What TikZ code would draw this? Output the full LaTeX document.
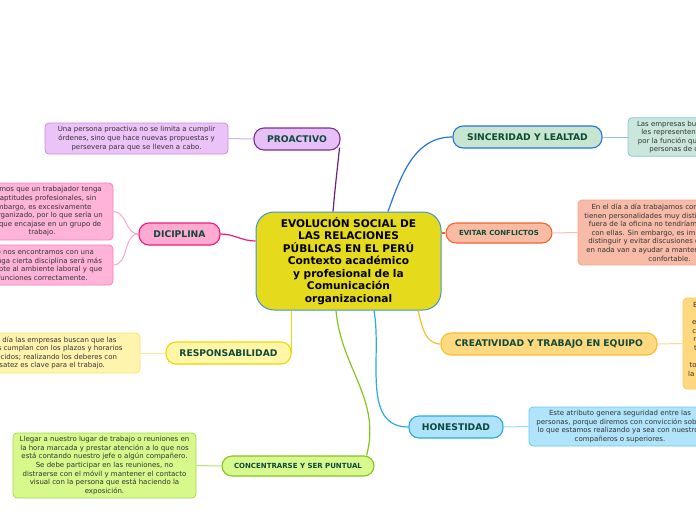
\documentclass[tikz,border=0pt]{standalone}
\usepackage{fontspec}
\setmainfont{DejaVu Sans}
\usepackage{tikz}
\usetikzlibrary{calc}
\definecolor{TitleGreen}{HTML}{0D4A3B}
\definecolor{NoteText}{HTML}{333333}
\definecolor{RootFill}{HTML}{E5DA1C}
\definecolor{RootBorder}{HTML}{3C96D6}
\definecolor{ProFill}{HTML}{E8C0F8}
\definecolor{ProBorder}{HTML}{7E2E91}
\definecolor{ProLine}{HTML}{6B1F7D}
\definecolor{ProNoteFill}{HTML}{ECC3F8}
\definecolor{ProNoteBorder}{HTML}{C88BDB}
\definecolor{SinFill}{HTML}{C7E6CF}
\definecolor{SinBorder}{HTML}{2A73D6}
\definecolor{SinNoteFill}{HTML}{C9E7DA}
\definecolor{SinNoteBorder}{HTML}{8CC2E8}
\definecolor{EviFill}{HTML}{F8BBA3}
\definecolor{EviBorder}{HTML}{F26430}
\definecolor{EviNoteFill}{HTML}{F7BBA7}
\definecolor{EviNoteBorder}{HTML}{F6A58C}
\definecolor{DicFill}{HTML}{FFA9D3}
\definecolor{DicBorder}{HTML}{F2187D}
\definecolor{DicNoteFill}{HTML}{FFB3D9}
\definecolor{DicNoteBorder}{HTML}{F77FBE}
\definecolor{ResFill}{HTML}{FFF6A8}
\definecolor{ResBorder}{HTML}{F2D600}
\definecolor{ResNoteFill}{HTML}{FFF4AE}
\definecolor{ResNoteBorder}{HTML}{F8E46E}
\definecolor{CreFill}{HTML}{FFD87F}
\definecolor{CreBorder}{HTML}{F7BE2C}
\definecolor{CreNoteFill}{HTML}{FFD87F}
\definecolor{CreNoteBorder}{HTML}{F9CB5A}
\definecolor{HonFill}{HTML}{AFE3FA}
\definecolor{HonBorder}{HTML}{2AA9E5}
\definecolor{HonNoteFill}{HTML}{B0E4FA}
\definecolor{HonNoteBorder}{HTML}{6EC6F0}
\definecolor{ConFill}{HTML}{D8F98E}
\definecolor{ConBorder}{HTML}{86C31E}
\definecolor{ConNoteFill}{HTML}{D7F88A}
\definecolor{ConNoteBorder}{HTML}{A6D94A}
\tikzset{
  rootnode/.style={
    draw=RootBorder,fill=RootFill,line width=1pt,rounded corners=18pt,
    minimum width=185pt,minimum height=98pt,text width=172pt,
    font=\fontsize{10.6}{12.5}\selectfont\bfseries,
    align=center,inner sep=2pt
  },
  topicnode/.style 2 args={
    draw=#1,fill=#2,line width=1.1pt,rounded corners=10pt,
    minimum height=22pt,inner sep=2pt,
    font=\fontsize{9.2}{11}\selectfont\bfseries\color{TitleGreen}
  },
  smtopicnode/.style 2 args={
    topicnode={#1}{#2},minimum height=20pt,
    font=\fontsize{7}{9}\selectfont\bfseries\color{TitleGreen}
  },
  notenode/.style 2 args={
    draw=#1,fill=#2,line width=0.8pt,rounded corners=4pt,
    inner xsep=5pt,inner ysep=3pt,align=center,
    font=\fontsize{7}{8.6}\selectfont\color{NoteText}
  },
  branch/.style={line width=1.2pt},
  twig/.style={line width=1pt},
}
\begin{document}
\begin{tikzpicture}[x=1pt,y=1pt]
  \useasboundingbox (0,0) rectangle (696,-520);
  \clip (0,0) rectangle (696,-520);
  % central idea
  \node[rootnode] (root) at (348.5,-261) {EVOLUCIÓN SOCIAL DE\\LAS RELACIONES\\PÚBLICAS EN EL PERÚ\\Contexto académico\\y profesional de la\\Comunicación\\organizacional};
  % main topics
  \node[topicnode={ProBorder}{ProFill}, minimum width=86pt] (pro) at (297,-139) {PROACTIVO};
  \node[topicnode={SinBorder}{SinFill}, minimum width=149pt] (sin) at (527.5,-137) {SINCERIDAD Y LEALTAD};
  \node[smtopicnode={EviBorder}{EviFill}, minimum width=106pt] (evi) at (499,-233) {EVITAR CONFLICTOS};
  \node[topicnode={DicBorder}{DicFill}, minimum width=81pt] (dic) at (179.5,-234) {DICIPLINA};
  \node[topicnode={ResBorder}{ResFill}, minimum width=125pt] (res) at (228.5,-353) {RESPONSABILIDAD};
  \node[topicnode={CreBorder}{CreFill}, minimum width=216pt] (cre) at (549,-344) {CREATIVIDAD Y TRABAJO EN EQUIPO};
  \node[topicnode={HonBorder}{HonFill}, minimum width=94pt] (hon) at (456,-427) {HONESTIDAD};
  \node[smtopicnode={ConBorder}{ConFill}, minimum width=152pt] (con) at (298,-466) {CONCENTRARSE Y SER PUNTUAL};
  % notes
  \node[notenode={ProNoteBorder}{ProNoteFill}, minimum width=183pt, minimum height=31pt] (pronote) at (136.5,-138.5) {Una persona proactiva no se limita a cumplir\\órdenes, sino que hace nuevas propuestas y\\persevera para que se lleven a cabo.};
  \node[notenode={SinNoteBorder}{SinNoteFill}, minimum width=183pt, minimum height=38pt] (sinnote) at (719.5,-137) {Las empresas buscan que los trabajadores que\\les representen sean sinceros y leales, tanto\\por la función que cumplen como por ser unas\\personas de confianza para la empresa.};
  \node[notenode={EviNoteBorder}{EviNoteFill}, minimum width=183pt, minimum height=65pt] (evinote) at (669.5,-232.5) {En el día a día trabajamos con personas que\\tienen personalidades muy distintas y que quizá\\fuera de la oficina no tendríamos trato alguno\\con ellas. Sin embargo, es importante saber\\distinguir y evitar discusiones o conflictos que\\en nada van a ayudar a mantener un ambiente\\confortable.};
  \node[notenode={DicNoteBorder}{DicNoteFill}, minimum width=142pt, minimum height=57pt] (dicnote1) at (42,-211.5) {Si vemos que un trabajador tenga\\las aptitudes profesionales, sin\\embargo, es excesivamente\\desorganizado, por lo que sería un\\reto que encajase en un grupo de\\trabajo.};
  \node[notenode={DicNoteBorder}{DicNoteFill}, minimum width=180pt, minimum height=40pt] (dicnote2) at (23,-265) {Si al contrario nos encontramos con una\\persona que tenga cierta disciplina será más\\fácil que se adapte al ambiente laboral y que\\realice sus funciones correctamente.};
  \node[notenode={ResNoteBorder}{ResNoteFill}, minimum width=188pt, minimum height=40pt] (resnote) at (46,-353) {Hoy en día las empresas buscan que las\\personas cumplan con los plazos y horarios\\establecidos; realizando los deberes con\\sensatez es clave para el trabajo.};
  \node[notenode={CreNoteBorder}{CreNoteFill}, minimum width=183pt, minimum height=91pt] (crenote) at (775.5,-343.5) {El trabajo en equipo permite que todos los que\\forman parte de un grupo aporten ideas\\en conjunto, logrando que crezca la creatividad\\compartiendo puntos de vista y experiencias, y\\rompiendo con la rutina y encontrando nuevos\\trucos y formas de resolver los problemas que\\en el trabajo, y además\\todos los trabajadores comparten en su día a día\\la empresa, creciendo juntos como un gran grupo\\humano.};
  \node[notenode={HonNoteBorder}{HonNoteFill}, minimum width=182pt, minimum height=39pt] (honnote) at (620,-426.5) {Este atributo genera seguridad entre las\\personas, porque diremos con convicción sobre\\lo que estamos realizando ya sea con nuestros\\compañeros o superiores.};
  \node[notenode={ConNoteBorder}{ConNoteFill}, minimum width=183pt, minimum height=65pt] (connote) at (104.5,-465.5) {Llegar a nuestro lugar de trabajo o reuniones en\\la hora marcada y prestar atención a lo que nos\\está contando nuestro jefe o algún compañero.\\Se debe participar en las reuniones, no\\distraerse con el móvil y mantener el contacto\\visual con la persona que está haciendo la\\exposición.};
  % branches from the centre
  \draw[branch, ProLine] ($(root.north)+(-15.5,0)$) to[out=85,in=-96] ($(pro.south east)+(-1,3)$);
  \draw[branch, SinBorder] ($(root.north)+(39.5,0)$) to[out=70,in=180] (sin.west);
  \draw[branch, EviBorder] (root.east |- evi.west) -- (evi.west);
  \draw[branch, DicBorder] ($(root.west)+(0,20)$) to[out=180,in=0] (dic.east);
  \draw[branch, ResBorder] (root.south -| res.east) -- (res.east);
  \draw[branch, CreBorder] ($(root.south)+(69.5,0)$) to[out=-75,in=180] (cre.west);
  \draw[branch, HonBorder] ($(root.south)+(25.5,0)$) to[out=-80,in=180] (hon.west);
  \draw[branch, ConBorder] ($(root.south)+(-12.5,0)$) to[out=-85,in=75] ($(con.north east)+(-8,0)$);
  % twigs to the notes
  \draw[twig, ProNoteBorder!70] (pro.west) -- (pronote.east);
  \draw[twig, SinNoteBorder] (sin.east) -- (sinnote.west);
  \draw[twig, EviNoteBorder!70] (evi.east) -- (evinote.west);
  \draw[twig, DicNoteBorder!70] (dic.west) to[out=180,in=0] (dicnote1.east);
  \draw[twig, DicNoteBorder!70] (dic.west) to[out=180,in=0] (dicnote2.east);
  \draw[twig, ResNoteBorder!70] (res.west) -- (resnote.east);
  \draw[twig, CreNoteBorder!70] (cre.east) -- (crenote.west);
  \draw[twig, HonNoteBorder!70] (hon.east) -- (honnote.west);
  \draw[twig, ConNoteBorder!80] (con.west) -- (connote.east);
\end{tikzpicture}
\end{document}
